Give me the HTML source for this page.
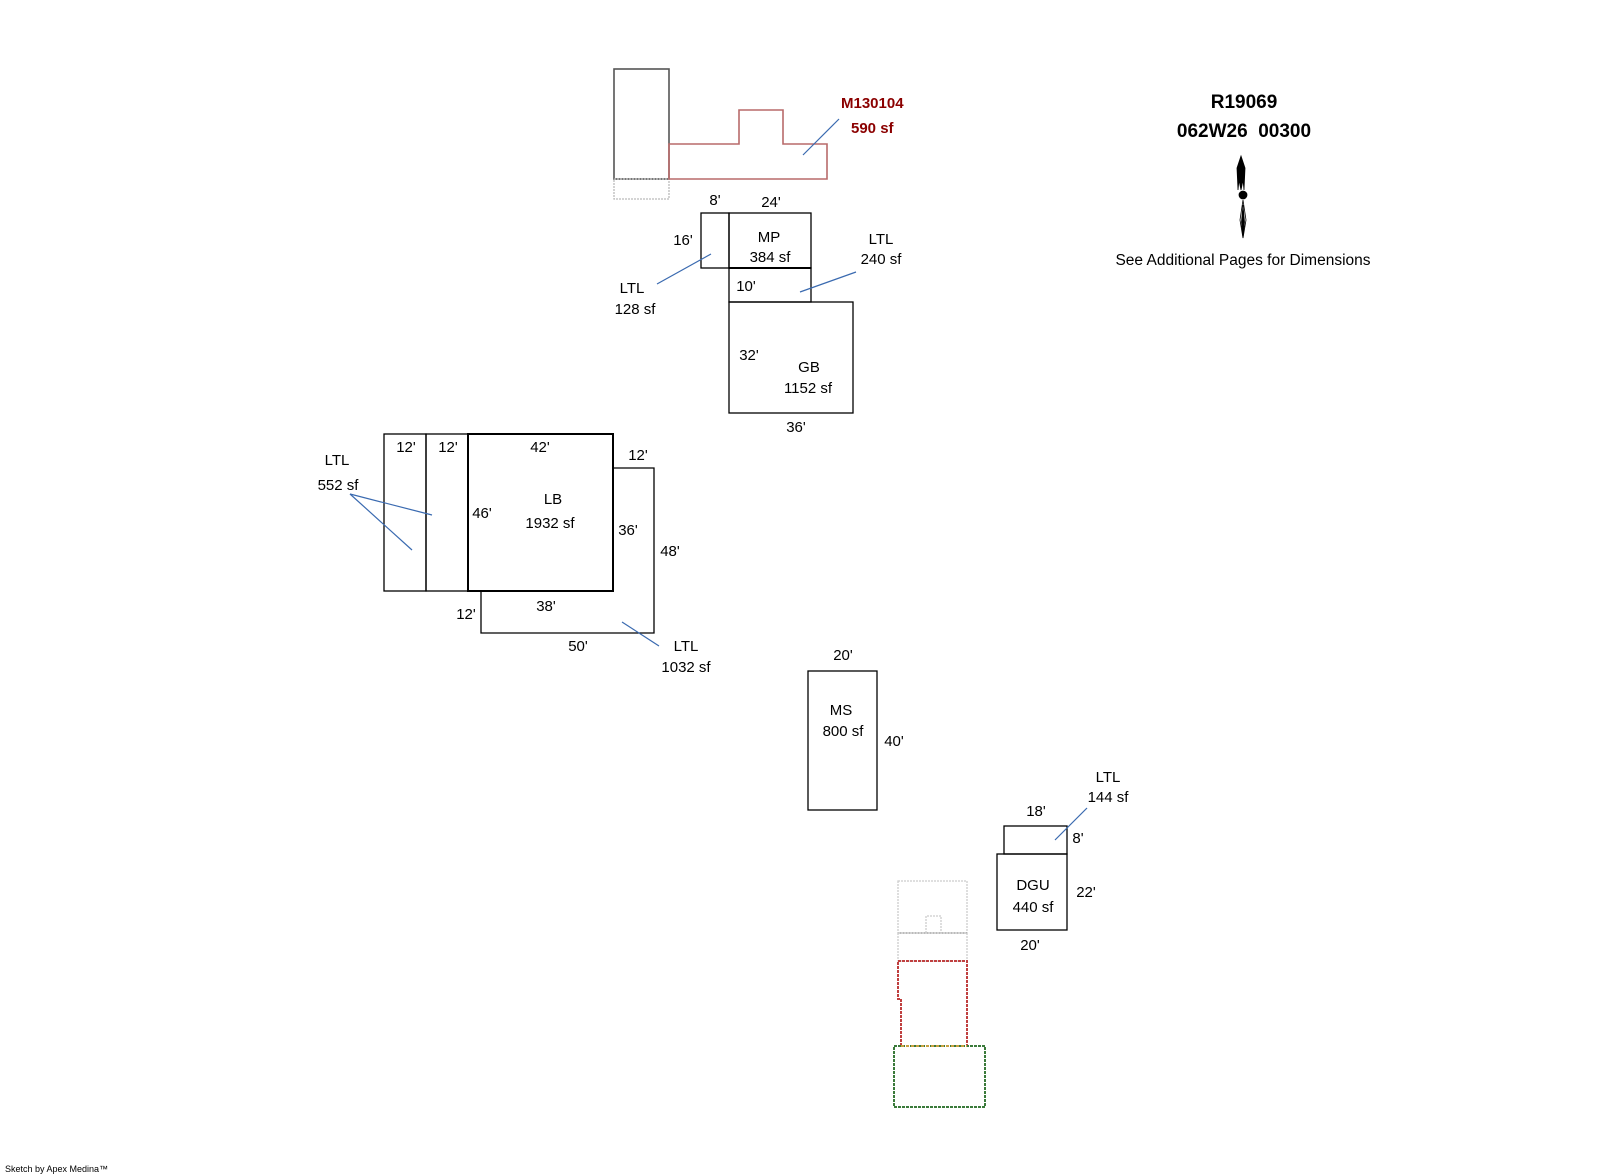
<!DOCTYPE html>
<html><head><meta charset="utf-8"><style>
html,body{margin:0;padding:0;background:#fff;}
svg{display:block;}
text{font-family:"Liberation Sans",Arial,sans-serif;font-size:15px;fill:#000;}
</style></head><body>
<svg width="1600" height="1174" viewBox="0 0 1600 1174" xmlns="http://www.w3.org/2000/svg">
<g fill="none" stroke="#000" stroke-width="1.3">
<rect x="614" y="69" width="55" height="110" stroke="#555" stroke-width="1.6"/>
<rect x="614" y="179" width="55" height="20" stroke="#bbb" stroke-dasharray="2,1"/>
<path d="M669 179 H827 V144 H783 V110 H739 V144 H669 Z" stroke="#b86a6a" stroke-width="1.6"/>
<rect x="701" y="213" width="28" height="55"/>
<rect x="729" y="213" width="82" height="55"/>
<line x1="729" y1="268" x2="811" y2="268" stroke-width="2"/>
<rect x="729" y="268" width="82" height="34"/>
<rect x="729" y="302" width="124" height="111"/>
<rect x="384" y="434" width="42" height="157"/>
<rect x="426" y="434" width="42" height="157"/>
<rect x="468" y="434" width="145" height="157" stroke-width="2"/>
<path d="M613 468 H654 V633 H481 V591"/>
<rect x="808" y="671" width="69" height="139"/>
<rect x="1004" y="826" width="63" height="28"/>
<rect x="997" y="854" width="70" height="76"/>
<rect x="898" y="881" width="69" height="52" stroke="#ccc" stroke-dasharray="2,1"/>
<path d="M926 933 V916 H941 V933" stroke="#ccc" stroke-dasharray="2,1"/>
<path d="M898 933 H967" stroke="#999"/>
<rect x="898" y="933" width="69" height="28" stroke="#ccc" stroke-dasharray="2,1"/>
<path d="M898 961 H967 V1046 H901 V999 H898 Z" stroke="#c04040" stroke-width="2" stroke-dasharray="3,1"/>
<rect x="894" y="1046" width="91" height="61" stroke="#3a7a3a" stroke-width="2" stroke-dasharray="3,1"/>
<path d="M901 1046 H967" stroke="#c8a040" stroke-width="2" stroke-dasharray="3,2"/>
</g>
<g stroke="#3a6ab0" stroke-width="1.2">
<line x1="803" y1="155" x2="839" y2="119"/>
<line x1="657" y1="284" x2="711" y2="254"/>
<line x1="800" y1="292" x2="856" y2="272"/>
<line x1="350" y1="494" x2="432" y2="515"/>
<line x1="350" y1="494" x2="412" y2="550"/>
<line x1="622" y1="622" x2="659" y2="646"/>
<line x1="1055" y1="840" x2="1087" y2="808"/>
</g>
<g fill="#000" stroke="#000" stroke-width="0.8">
<path d="M1241 156 L1245 168 L1244 190 L1243 180 L1241 190 L1239 180 L1238 190 L1237 168 Z"/>
<ellipse cx="1243" cy="195" rx="4" ry="4"/>
<path d="M1243 200 L1246 220 L1243 238 L1240 220 Z" fill="#fff"/>
<path d="M1243 205 L1244.5 222 L1243 238 L1241.5 222 Z"/>
</g>
<g style="font-size:14.5px">
<text x="841" y="108" style="fill:#8b0000;font-weight:bold">M130104</text>
<text x="851" y="133" style="fill:#8b0000;font-weight:bold">590 sf</text>
<text x="1244" y="108" text-anchor="middle" style="font-weight:bold;font-size:19px">R19069</text>
<text x="1244" y="137" text-anchor="middle" style="font-weight:bold;font-size:19px">062W26&#160;&#160;00300</text>
<text x="1243" y="265" text-anchor="middle" style="font-size:15.5px">See Additional Pages for Dimensions</text>
<text x="715" y="205" text-anchor="middle">8'</text>
<text x="771" y="207" text-anchor="middle">24'</text>
<text x="683" y="245" text-anchor="middle">16'</text>
<text x="769" y="242" text-anchor="middle">MP</text>
<text x="770" y="262" text-anchor="middle">384 sf</text>
<text x="881" y="244" text-anchor="middle">LTL</text>
<text x="881" y="264" text-anchor="middle">240 sf</text>
<text x="746" y="291" text-anchor="middle">10'</text>
<text x="632" y="293" text-anchor="middle">LTL</text>
<text x="635" y="314" text-anchor="middle">128 sf</text>
<text x="749" y="360" text-anchor="middle">32'</text>
<text x="809" y="372" text-anchor="middle">GB</text>
<text x="808" y="393" text-anchor="middle">1152 sf</text>
<text x="796" y="432" text-anchor="middle">36'</text>
<text x="406" y="452" text-anchor="middle">12'</text>
<text x="448" y="452" text-anchor="middle">12'</text>
<text x="540" y="452" text-anchor="middle">42'</text>
<text x="638" y="460" text-anchor="middle">12'</text>
<text x="337" y="465" text-anchor="middle">LTL</text>
<text x="338" y="490" text-anchor="middle">552 sf</text>
<text x="553" y="504" text-anchor="middle">LB</text>
<text x="550" y="528" text-anchor="middle">1932 sf</text>
<text x="482" y="518" text-anchor="middle">46'</text>
<text x="628" y="535" text-anchor="middle">36'</text>
<text x="670" y="556" text-anchor="middle">48'</text>
<text x="546" y="611" text-anchor="middle">38'</text>
<text x="466" y="619" text-anchor="middle">12'</text>
<text x="578" y="651" text-anchor="middle">50'</text>
<text x="686" y="651" text-anchor="middle">LTL</text>
<text x="686" y="672" text-anchor="middle">1032 sf</text>
<text x="843" y="660" text-anchor="middle">20'</text>
<text x="841" y="715" text-anchor="middle">MS</text>
<text x="843" y="736" text-anchor="middle">800 sf</text>
<text x="894" y="746" text-anchor="middle">40'</text>
<text x="1108" y="782" text-anchor="middle">LTL</text>
<text x="1108" y="802" text-anchor="middle">144 sf</text>
<text x="1036" y="816" text-anchor="middle">18'</text>
<text x="1078" y="843" text-anchor="middle">8'</text>
<text x="1033" y="890" text-anchor="middle">DGU</text>
<text x="1033" y="912" text-anchor="middle">440 sf</text>
<text x="1086" y="897" text-anchor="middle">22'</text>
<text x="1030" y="950" text-anchor="middle">20'</text>
</g>
<text x="5" y="1172" style="font-size:9px">Sketch by Apex Medina™</text>
</svg>
</body></html>
